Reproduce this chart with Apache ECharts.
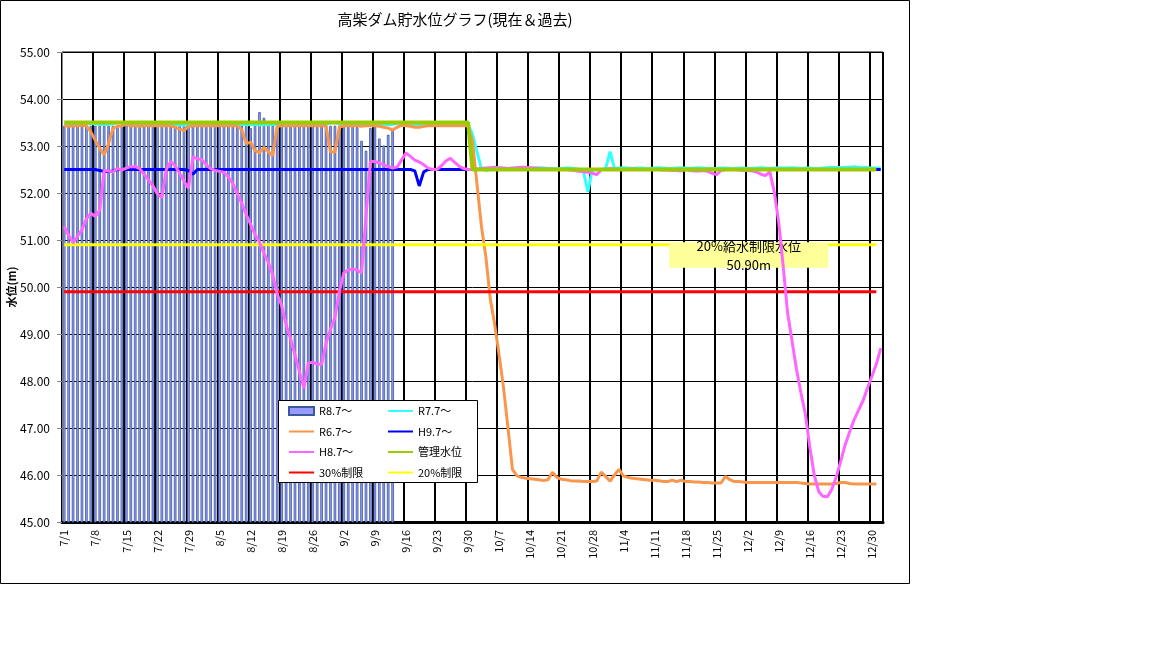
<!DOCTYPE html>
<html>
<head>
<meta charset="utf-8">
<title>高柴ダム貯水位グラフ(現在＆過去)</title>
<script src="https://cdn.jsdelivr.net/npm/echarts@6.0.0/dist/echarts.min.js"></script>
<style>
  html, body { margin: 0; padding: 0; background: #fff; }
  #chart { width: 1152px; height: 648px; }
</style>
</head>
<body>
<div id="chart"></div>
<script>
var FONT = "'Noto Sans CJK JP', 'Noto Sans', sans-serif";
var titleText = '高柴ダム貯水位グラフ(現在＆過去)';

// 日付ラベル 7/1 〜 1/1
var monthDays = [[7, 31], [8, 31], [9, 30], [10, 31], [11, 30], [12, 31]];
var dates = [];
monthDays.forEach(function (m) {
    for (var d = 1; d <= m[1]; d++) dates.push(m[0] + '/' + d);
});
dates.push('1/1');

var yTicks = [45, 46, 47, 48, 49, 50, 51, 52, 53, 54, 55];

// R8.7〜 (棒) 7/1 〜 9/13
var r8 = [
    53.43, 53.43, 53.43, 53.43, 53.43, 53.43, 53.43,
    53.43, 53.43, 53.43, 53.43, 53.43, 53.43, 53.43,
    53.44, 53.43, 53.43, 53.43, 53.43, 53.43, 53.43,
    53.43, 53.43, 53.43, 53.43, 53.43, 53.42, 53.42,
    53.43, 53.43, 53.43, 53.43, 53.43, 53.43, 53.43,
    53.43, 53.43, 53.43, 53.43, 53.43, 53.43, 53.43,
    53.38, 53.43, 53.72, 53.60, 53.43, 53.43, 53.43,
    53.43, 53.43, 53.43, 53.43, 53.43, 53.43, 53.43,
    53.43, 53.43, 53.43, 53.43, 53.43, 53.43, 53.43,
    53.43, 53.43, 53.43, 53.40, 53.11, 52.90, 53.38,
    53.42, 53.16, 53.01, 53.24, 53.36
];

// R7.7〜
var r7 = [
    53.45, 53.45, 53.46, 53.46, 53.46, 53.47, 53.48,
    53.47, 53.46, 53.46, 53.46, 53.47, 53.50, 53.50,
    53.48, 53.46, 53.46, 53.47, 53.48, 53.46, 53.46,
    53.46, 53.45, 53.45, 53.46, 53.46, 53.45, 53.44,
    53.45, 53.46, 53.46, 53.47, 53.47, 53.46, 53.46,
    53.46, 53.46, 53.45, 53.45, 53.46, 53.46, 53.45,
    53.45, 53.45, 53.45, 53.45, 53.45, 53.46, 53.46,
    53.46, 53.47, 53.46, 53.46, 53.47, 53.47, 53.46,
    53.46, 53.46, 53.46, 53.46, 53.50, 53.50, 53.47,
    53.46, 53.46, 53.46, 53.46, 53.45, 53.45, 53.46,
    53.46, 53.46, 53.45, 53.45, 53.46, 53.48, 53.50,
    53.47, 53.46, 53.46, 53.46, 53.46, 53.46, 53.46,
    53.46, 53.46, 53.46, 53.46, 53.46, 53.46, 53.47,
    53.45, 53.25, 52.88, 52.52, 52.48, 52.50, 52.52,
    52.53, 52.52, 52.50, 52.52, 52.53, 52.54, 52.53,
    52.52, 52.53, 52.54, 52.53, 52.52, 52.52, 52.51,
    52.52, 52.53, 52.53, 52.52, 52.50, 52.46, 52.02,
    52.50, 52.50, 52.50, 52.52, 52.88, 52.52, 52.53,
    52.54, 52.53, 52.52, 52.53, 52.53, 52.52, 52.52,
    52.53, 52.54, 52.53, 52.52, 52.52, 52.53, 52.54,
    52.53, 52.52, 52.53, 52.54, 52.53, 52.52, 52.52,
    52.52, 52.53, 52.53, 52.52, 52.52, 52.53, 52.53,
    52.52, 52.52, 52.53, 52.54, 52.53, 52.52, 52.53,
    52.54, 52.53, 52.53, 52.54, 52.53, 52.52, 52.53,
    52.53, 52.52, 52.52, 52.53, 52.54, 52.55, 52.54,
    52.54, 52.55, 52.55, 52.56, 52.55, 52.54, 52.54,
    52.53, 52.53, 52.53
];

// R6.7〜
var r6 = [
    53.43, 53.42, 53.43, 53.43, 53.44, 53.43, 53.30,
    53.12, 52.95, 52.81, 53.05, 53.38, 53.42, 53.43,
    53.46, 53.43, 53.43, 53.42, 53.43, 53.43, 53.43,
    53.43, 53.43, 53.43, 53.43, 53.40, 53.36, 53.33,
    53.41, 53.43, 53.43, 53.43, 53.43, 53.43, 53.43,
    53.43, 53.43, 53.43, 53.43, 53.43, 53.35, 53.05,
    53.08, 52.90, 52.86, 52.97, 52.88, 52.79, 53.42,
    53.43, 53.43, 53.43, 53.43, 53.43, 53.43, 53.43,
    53.43, 53.43, 53.43, 53.43, 52.87, 52.87, 53.40,
    53.43, 53.43, 53.43, 53.43, 53.42, 53.43, 53.43,
    53.43, 53.42, 53.40, 53.38, 53.34, 53.40, 53.44,
    53.43, 53.42, 53.40, 53.40, 53.42, 53.43, 53.43,
    53.43, 53.43, 53.43, 53.43, 53.43, 53.43, 53.43,
    53.43, 53.10, 52.20, 51.30, 50.65, 49.75, 49.20,
    48.55, 47.85, 47.00, 46.12, 45.98, 45.95, 45.93,
    45.92, 45.91, 45.90, 45.88, 45.90, 46.06, 45.95,
    45.91, 45.90, 45.88, 45.87, 45.87, 45.86, 45.86,
    45.86, 45.87, 46.06, 45.97, 45.87, 46.00, 46.12,
    45.98, 45.95, 45.93, 45.92, 45.91, 45.90, 45.89,
    45.89, 45.88, 45.86, 45.86, 45.89, 45.86, 45.89,
    45.86, 45.86, 45.85, 45.85, 45.84, 45.84, 45.83,
    45.83, 45.83, 45.97, 45.90, 45.86, 45.86, 45.85,
    45.84, 45.84, 45.84, 45.84, 45.84, 45.84, 45.84,
    45.84, 45.84, 45.84, 45.84, 45.84, 45.83, 45.82,
    45.81, 45.81, 45.81, 45.81, 45.81, 45.81, 45.82,
    45.84, 45.84, 45.82, 45.81, 45.81, 45.81, 45.81,
    45.81, 45.81
];

// H9.7〜
var h9 = [
    52.50, 52.50, 52.50, 52.50, 52.50, 52.50, 52.50,
    52.50, 52.48, 52.46, 52.46, 52.47, 52.50, 52.50,
    52.50, 52.50, 52.50, 52.50, 52.50, 52.50, 52.50,
    52.50, 52.50, 52.50, 52.50, 52.50, 52.50, 52.50,
    52.48, 52.40, 52.50, 52.50, 52.50, 52.50, 52.50,
    52.50, 52.50, 52.50, 52.50, 52.50, 52.50, 52.50,
    52.50, 52.50, 52.50, 52.50, 52.50, 52.50, 52.50,
    52.50, 52.50, 52.50, 52.50, 52.50, 52.50, 52.50,
    52.50, 52.50, 52.50, 52.50, 52.50, 52.50, 52.50,
    52.50, 52.50, 52.50, 52.50, 52.50, 52.50, 52.50,
    52.50, 52.50, 52.50, 52.50, 52.50, 52.50, 52.50,
    52.50, 52.50, 52.47, 52.15, 52.45, 52.50, 52.50,
    52.50, 52.50, 52.50, 52.50, 52.50, 52.50, 52.50,
    52.50, 52.50, 52.50, 52.50, 52.50, 52.50, 52.50,
    52.50, 52.50, 52.50, 52.50, 52.50, 52.50, 52.50,
    52.50, 52.50, 52.50, 52.50, 52.50, 52.50, 52.50,
    52.50, 52.50, 52.50, 52.50, 52.50, 52.50, 52.50,
    52.50, 52.50, 52.50, 52.50, 52.50, 52.50, 52.50,
    52.50, 52.50, 52.50, 52.50, 52.50, 52.50, 52.50,
    52.50, 52.50, 52.50, 52.50, 52.50, 52.50, 52.50,
    52.50, 52.50, 52.50, 52.50, 52.50, 52.50, 52.50,
    52.50, 52.50, 52.50, 52.50, 52.50, 52.50, 52.50,
    52.50, 52.50, 52.50, 52.50, 52.50, 52.50, 52.50,
    52.50, 52.50, 52.50, 52.50, 52.50, 52.50, 52.50,
    52.50, 52.50, 52.50, 52.50, 52.50, 52.50, 52.50,
    52.50, 52.50, 52.50, 52.50, 52.50, 52.50, 52.50,
    52.50, 52.50, 52.50
];

// H8.7〜
var h8 = [
    51.29, 51.10, 50.94, 51.08, 51.22, 51.45, 51.57,
    51.50, 51.63, 52.48, 52.47, 52.45, 52.52, 52.49,
    52.53, 52.56, 52.56, 52.52, 52.40, 52.28, 52.15,
    51.98, 51.90, 52.50, 52.67, 52.58, 52.42, 52.25,
    52.10, 52.77, 52.73, 52.71, 52.60, 52.52, 52.48,
    52.46, 52.44, 52.34, 52.20, 51.98, 51.78, 51.55,
    51.33, 51.12, 50.95, 50.72, 50.52, 50.25, 49.85,
    49.60, 49.20, 48.90, 48.55, 48.20, 47.85, 48.38,
    48.40, 48.36, 48.35, 48.80, 49.10, 49.35, 49.90,
    50.30, 50.36, 50.38, 50.36, 50.30, 51.50, 52.67,
    52.67, 52.64, 52.60, 52.56, 52.53, 52.55, 52.70,
    52.85, 52.78, 52.70, 52.66, 52.60, 52.53, 52.50,
    52.50, 52.58, 52.68, 52.74, 52.65, 52.57, 52.52,
    52.50, 52.50, 52.51, 52.52, 52.53, 52.54, 52.55,
    52.54, 52.53, 52.52, 52.53, 52.54, 52.55, 52.55,
    52.54, 52.53, 52.52, 52.51, 52.51, 52.50, 52.50,
    52.50, 52.50, 52.49, 52.48, 52.46, 52.45, 52.44,
    52.42, 52.39, 52.50, 52.50, 52.52, 52.51, 52.50,
    52.50, 52.50, 52.51, 52.50, 52.50, 52.50, 52.50,
    52.50, 52.50, 52.49, 52.49, 52.48, 52.48, 52.47,
    52.50, 52.48, 52.47, 52.47, 52.48, 52.46, 52.42,
    52.39, 52.48, 52.50, 52.50, 52.50, 52.49, 52.48,
    52.48, 52.47, 52.45, 52.40, 52.37, 52.45, 52.02,
    51.38, 50.45, 49.45, 48.85, 48.25, 47.75, 47.30,
    46.60, 46.00, 45.65, 45.54, 45.54, 45.70, 45.97,
    46.30, 46.65, 46.92, 47.18, 47.38, 47.58, 47.85,
    48.10, 48.36, 48.70
];

// 管理水位
var kanriDates = ['7/1', '9/30', '10/1', '12/31'];
var kanriLevel = [53.5, 53.5, 52.5, 52.5];

// 制限水位
var limitDates = ['7/1', '12/31'];
var limit30 = [49.9, 49.9];
var limit20 = [50.9, 50.9];

// 注記
var noteDate = '11/15';
var noteText1 = '20%給水制限水位';
var noteText2 = '50.90m';

function pairs(ds, vs) {
    return ds.map(function (d, i) { return [dates.indexOf(d), vs[i]]; });
}

function lineSeries(name, data, color, width, z) {
    return {
        name: name,
        type: 'line',
        data: data,
        symbol: 'none',
        z: z || 2,
        lineStyle: { color: color, width: width },
        itemStyle: { color: color },
        emphasis: { disabled: true }
    };
}

// 凡例の線アイコンは丸印なし
function lineItem(name) {
    return { name: name, itemStyle: { opacity: 0 } };
}

var chart = echarts.init(document.getElementById('chart'), null, { renderer: 'canvas' });

var legendCommon = {
    orient: 'vertical',
    top: 404,
    padding: 0,
    itemWidth: 25,
    itemHeight: 8,
    itemGap: 6.5,
    selectedMode: false,
    textStyle: { fontFamily: FONT, fontSize: 11, lineHeight: 14, color: '#000' }
};

chart.setOption({
    animation: false,
    backgroundColor: '#fff',
    textStyle: { fontFamily: FONT },
    legend: [
        Object.assign({}, legendCommon, {
            left: 288,
            data: [{ name: 'R8.7〜', icon: 'rect' }, lineItem('R6.7〜'), lineItem('H8.7〜'), lineItem('30%制限')]
        }),
        Object.assign({}, legendCommon, {
            left: 387,
            data: [lineItem('R7.7〜'), lineItem('H9.7〜'), lineItem('管理水位'), lineItem('20%制限')]
        })
    ],
    grid: {
        left: 62, right: 269, top: 52, bottom: 126,
        outerBoundsMode: 'none',
        show: true, backgroundColor: '#fff', borderColor: '#000', borderWidth: 1
    },
    xAxis: {
        type: 'category',
        data: dates,
        boundaryGap: true,
        axisLine: { lineStyle: { color: '#000', width: 3 } },
        axisTick: { show: false, interval: 6 },
        axisLabel: { interval: 6, rotate: 90, margin: 8, fontSize: 11, color: '#000', fontFamily: FONT },
        splitLine: { show: true, interval: 6, lineStyle: { color: '#000', width: 2 } }
    },
    yAxis: {
        type: 'value',
        min: yTicks[0],
        max: yTicks[yTicks.length - 1],
        interval: 1,
        name: '水位(m)',
        nameLocation: 'middle',
        nameGap: 45,
        nameMoveOverlap: false,
        nameTextStyle: { fontFamily: FONT, fontSize: 11, fontWeight: 'bold', color: '#000' },
        axisLine: { show: true, lineStyle: { color: '#868686', width: 1 } },
        axisTick: { show: true, length: 5, lineStyle: { color: '#868686' } },
        axisLabel: {
            margin: 12, fontSize: 12, color: '#000', fontFamily: FONT,
            formatter: function (v) { return v.toFixed(2); }
        },
        splitLine: { lineStyle: { color: '#000', width: 1 } }
    },
    series: [
        {
            name: 'R8.7〜',
            type: 'bar',
            data: r8,
            barWidth: 2.6,
            z: 2,
            itemStyle: { color: '#9999FF', borderColor: '#3B5A9A', borderWidth: 0.8 },
            emphasis: { disabled: true }
        },
        lineSeries('R7.7〜', r7, '#33FFFF', 3),
        lineSeries('R6.7〜', r6, '#F9964B', 3),
        lineSeries('H9.7〜', h9, '#0000FF', 3),
        lineSeries('H8.7〜', h8, '#FF66FF', 3, 4),
        lineSeries('管理水位', pairs(kanriDates, kanriLevel), '#99CC00', 4, 5),
        lineSeries('30%制限', pairs(limitDates, limit30), '#FF0000', 3),
        lineSeries('20%制限', pairs(limitDates, limit20), '#FFFF00', 3)
    ]
});

// 注記の位置はデータ座標から求める
var p = chart.convertToPixel({ xAxisIndex: 0, yAxisIndex: 0 }, [dates.indexOf(noteDate), limit20[0]]);
var boxX = p[0] - 3, boxY = p[1] - 2.5, boxW = 159, boxH = 25.5;

chart.setOption({
    graphic: [
        {
            type: 'rect', id: 'frame', z: 0, silent: true,
            shape: { x: 0.5, y: 0.5, width: 909, height: 583 },
            style: { fill: null, stroke: '#000', lineWidth: 1 }
        },
        {
            type: 'text', id: 'title', z: 3, silent: true,
            style: { text: titleText, x: 455, y: 19, align: 'center', verticalAlign: 'middle',
                     font: '15px ' + FONT, fill: '#000' }
        },
        {
            type: 'rect', id: 'legendBox', z: 3, silent: true,
            shape: { x: 278.5, y: 400.5, width: 199, height: 82 },
            style: { fill: '#fff', stroke: '#000', lineWidth: 1 }
        },
        {
            type: 'rect', id: 'noteBox', z: 3, silent: true,
            shape: { x: boxX, y: boxY, width: boxW, height: boxH },
            style: { fill: '#FFFF99', stroke: null }
        },
        {
            type: 'text', id: 'note1', z: 3, silent: true,
            style: { text: noteText1, x: boxX + boxW / 2, y: boxY + 3.5, align: 'center', verticalAlign: 'middle',
                     font: '13px ' + FONT, fill: '#000' }
        },
        {
            type: 'text', id: 'note2', z: 3, silent: true,
            style: { text: noteText2, x: boxX + boxW / 2, y: boxY + 22.5, align: 'center', verticalAlign: 'middle',
                     font: '13px ' + FONT, fill: '#000' }
        }
    ]
});
</script>
</body>
</html>
